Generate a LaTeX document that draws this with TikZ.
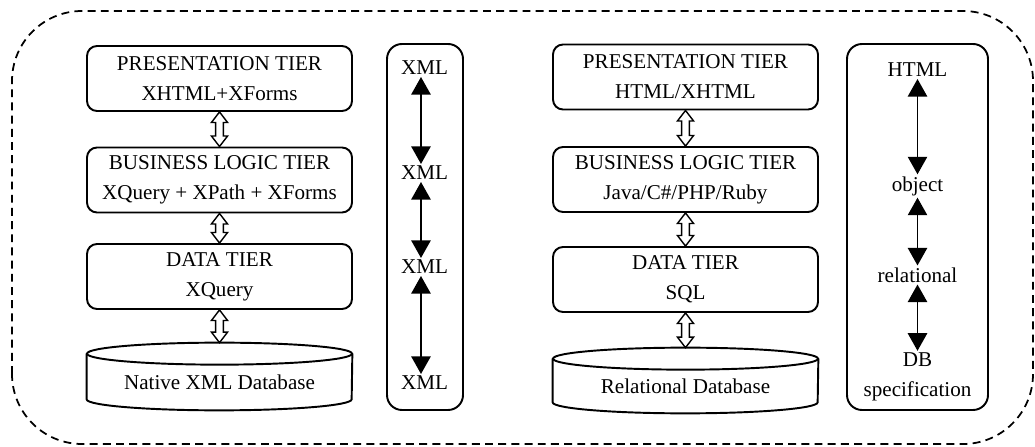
\documentclass[tikz,border=0pt]{standalone}
\usepackage{fontspec}
\setmainfont{Liberation Serif}
\usetikzlibrary{arrows.meta}
\newcommand\hollowarr[2]{%
  \draw[line width=.8pt, line join=miter] (#1)
    -- ([shift={(-4.6pt,-6pt)}]#1) -- ([shift={(-2.2pt,-6pt)}]#1)
    -- ([shift={(-2.2pt,6pt)}]#2) -- ([shift={(-4.6pt,6pt)}]#2) -- (#2)
    -- ([shift={(4.6pt,6pt)}]#2) -- ([shift={(2.2pt,6pt)}]#2)
    -- ([shift={(2.2pt,-6pt)}]#1) -- ([shift={(4.6pt,-6pt)}]#1) -- cycle;}

\begin{document}
\begin{tikzpicture}[font=\fontsize{12}{17}\selectfont,
  tier/.style={draw, line width=1.1pt, rounded corners=.2cm, align=center, minimum width=5.3cm, minimum height=1.3cm},
  dbase/.style={minimum width=5.3cm},
  col/.style={draw, line width=1.1pt, rounded corners=.3cm, minimum height=7.32cm},
  lbl/.style={inner sep=1pt, align=center},
  arr/.style={line width=.9pt, {Triangle[width=11pt,length=10pt]}-{Triangle[width=11pt,length=10pt]}}]
\useasboundingbox (0,0) rectangle (20.7,8.92);
\draw[line width=1pt, dash pattern=on 4.5pt off 3pt, rounded corners=1.4cm] (.24,.04) rectangle (20.66,8.7);

% XML stack
\node[tier] (pt1) at (4.39,7.35) {PRESENTATION TIER\\XHTML+XForms};
\node[tier] (bt1) at (4.39,5.32) {BUSINESS LOGIC TIER\\XQuery + XPath + XForms};
\node[tier] (dt1) at (4.39,3.39) {DATA TIER\\XQuery};
\node[dbase, minimum height=1.12cm] (db1) at (4.39,1.28) {Native XML Database};
\draw[line width=1.1pt] (db1.north west) -- ([yshift=2.2mm]db1.south west)
  arc[start angle=180, end angle=360, x radius=2.65cm, y radius=2.2mm] -- (db1.north east);
\draw[line width=1.1pt] (db1.north) ellipse[x radius=2.65cm, y radius=2.2mm];
\coordinate (db1top) at ([yshift=2.2mm]db1.north);
\hollowarr{pt1.south}{bt1.north}
\hollowarr{bt1.south}{dt1.north}
\hollowarr{dt1.south}{db1top}

\node[col, minimum width=1.52cm] (xcol) at (8.5,4.38) {};
\node[lbl] (x1) at (8.49,7.56) {XML};
\node[lbl] (x2) at (8.49,5.46) {XML};
\node[lbl] (x3) at (8.49,3.58) {XML};
\node[lbl] (x4) at (8.49,1.26) {XML};
\draw[arr] ([xshift=-2pt]x1.south) -- ([xshift=-2pt]x2.north);
\draw[arr] ([xshift=-2pt]x2.south) -- ([xshift=-2pt]x3.north);
\draw[arr] ([xshift=-2pt]x3.south) -- ([xshift=-2pt]x4.north);

% relational stack
\node[tier] (pt2) at (13.71,7.38) {PRESENTATION TIER\\HTML/XHTML};
\node[tier] (bt2) at (13.71,5.33) {BUSINESS LOGIC TIER\\Java/C\#/PHP/Ruby};
\node[tier] (dt2) at (13.71,3.33) {DATA TIER\\SQL};
\node[dbase, minimum height=1.08cm] (db2) at (13.71,1.2) {Relational Database};
\draw[line width=1.1pt] (db2.north west) -- ([yshift=2.2mm]db2.south west)
  arc[start angle=180, end angle=360, x radius=2.65cm, y radius=2.2mm] -- (db2.north east);
\draw[line width=1.1pt] (db2.north) ellipse[x radius=2.65cm, y radius=2.2mm];
\coordinate (db2top) at ([yshift=2.2mm]db2.north);
\hollowarr{pt2.south}{bt2.north}
\hollowarr{bt2.south}{dt2.north}
\hollowarr{dt2.south}{db2top}

\node[col, minimum width=2.82cm] (rcol) at (18.35,4.38) {};
\node[lbl] (r1) at (18.35,7.52) {HTML};
\node[lbl] (r2) at (18.35,5.2) {object};
\node[lbl] (r3) at (18.35,3.42) {relational};
\node[lbl] (r4) at (18.35,1.38) {DB\\specification};
\draw[arr] (r1) -- (r2);
\draw[arr] (r2) -- (r3);
\draw[arr] (r3) -- (r4);
\end{tikzpicture}
\end{document}
